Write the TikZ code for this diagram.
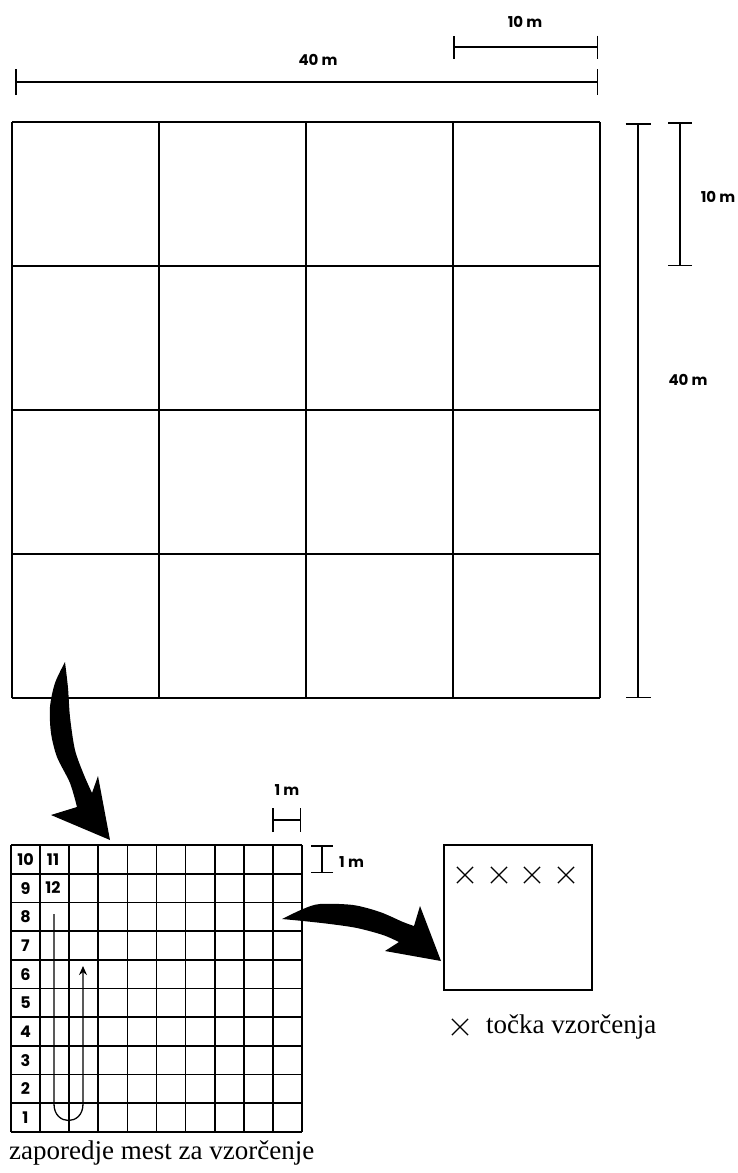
\documentclass[tikz,border=0pt]{standalone}
\usepackage{fontspec}
\setmainfont{Liberation Serif}
\newfontfamily\dimfont{Poppins}
\usetikzlibrary{arrows.meta,shapes.misc}
\tikzset{
  gridline/.style={line width=1.4pt},
  smallline/.style={line width=1.7pt},
  dimline/.style={line width=1.5pt},
  dimlabel/.style={font=\dimfont\bfseries\fontsize{15}{17}\selectfont, inner sep=0pt},
  cellnum/.style={font=\dimfont\bfseries\fontsize{16}{18}\selectfont, inner sep=0pt},
  caption/.style={font=\fontsize{27}{31}\selectfont, inner sep=0pt, anchor=west},
  sample/.style={cross out, draw, line width=1.2pt, minimum size=15pt, inner sep=0pt},
  bigarrow/.style={fill=black},
  route/.style={line width=1.3pt, -{Stealth[length=9pt,width=8pt]}}
}
\begin{document}
\begin{tikzpicture}[x=1pt,y=-1pt]
  \useasboundingbox (0,0) rectangle (738,1173);

  \foreach \i in {0,...,4} {
    \draw[gridline] ({12+147*\i},122) -- ({12+147*\i},698);
    \draw[gridline] (12,{122+144*\i}) -- (600,{122+144*\i});
  }

  \draw[dimline, {Bar[width=26pt]}-{Bar[width=26pt]}] (15,82) -- (598,82);
  \node[dimlabel] (top40) at (318,60) {40 m};
  \draw[dimline, {Bar[width=23pt]}-{Bar[width=23pt]}] (453,47) -- (598,47);
  \node[dimlabel] (top10) at (525,22) {10 m};
  \draw[dimline, {Bar[width=25pt]}-{Bar[width=25pt]}] (638,123) -- (638,698);
  \node[dimlabel] (side40) at (688,380) {40 m};
  \draw[dimline, {Bar[width=24pt]}-{Bar[width=24pt]}] (680,122) -- (680,266);
  \node[dimlabel] (side10) at (718,197) {10 m};

  \fill[bigarrow] plot[smooth] coordinates {(65,662) (55,683) (50,707) (51,733) (57,757) (70,783) (77,807)}
    -- (51,815) -- (110,840) -- (98,776)
    -- plot[smooth] coordinates {(92,793) (84,775) (75,750) (70,717) (68,688) (65,662)} -- cycle;

  \foreach \i in {0,...,10} {
    \draw[smallline] ({11+29.1*\i},845) -- ({11+29.1*\i},1132);
    \draw[smallline] (11,{845+28.7*\i}) -- (302,{845+28.7*\i});
  }
  \foreach \n in {1,...,10}
    \node[cellnum] (n\n) at (25.5,{1132-28.7*(\n-0.5)}) {\n};
  \node[cellnum] (n11) at (53,859.3) {11};
  \node[cellnum] (n12) at (53,888) {12};
  \draw[route] (54,914) -- (54,1104) .. controls (54,1126) and (83,1126) .. (83,1104) -- (83,966);

  \draw[dimline, {Bar[width=24pt]}-{Bar[width=24pt]}] (272,820) -- (301,820);
  \node[dimlabel] (cell1h) at (287,790) {1 m};
  \draw[dimline, {Bar[width=22pt]}-{Bar[width=22pt]}] (322,845) -- (322,873);
  \node[dimlabel, anchor=west] (cell1v) at (339,862) {1 m};

  \node[caption] (order) at (9,1153) {zaporedje mest za vzorčenje};

  \fill[bigarrow] plot[smooth] coordinates {(282,919) (303,909) (320,904) (353,905) (380,912) (403,922) (414,926)}
    -- (420,906) -- (441,961) -- (385,951)
    -- plot[smooth] coordinates {(399,942) (383,935) (357,928) (330,924) (303,921) (282,919)} -- cycle;

  \node[draw, smallline, minimum width=148pt, minimum height=145pt] (square) at (518,917.5) {};
  \foreach \x [count=\k] in {465,499,532,566}
    \node[sample] (x\k) at (\x,875) {};

  \node[sample] (key) at (460,1027) {};
  \node[caption] (keytext) at (486,1027) {točka vzorčenja};
\end{tikzpicture}
\end{document}
